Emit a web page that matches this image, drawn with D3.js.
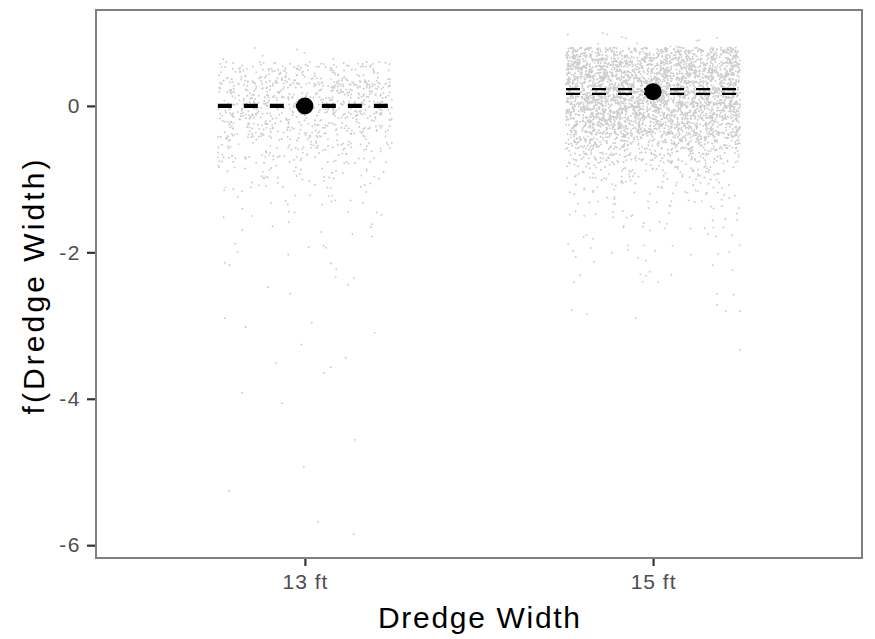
<!DOCTYPE html>
<html>
<head>
<meta charset="utf-8">
<script src="https://cdn.jsdelivr.net/npm/d3@7"></script>
<style>
  body { margin: 0; background: #fff; }
  svg { display: block; font-family: "Liberation Sans", Arial, sans-serif; }
</style>
</head>
<body>
<svg id="chart" width="875" height="639"></svg>
<script>
// categories and fitted effect
const categories = ["13 ft", "15 ft"];
const means = [0.0, 0.195];
const lower = [-0.015, 0.165];
const upper = [0.015, 0.23];

// partial residuals, summarised as counts per 0.2-wide band
const binLow = [0.8, 0.6, 0.4, 0.2, 0.0, -0.2, -0.4, -0.6, -0.8, -1.0, -1.2, -1.4, -1.6, -1.8, -2.0, -2.2, -2.4, -2.6];
const counts13 = [0, 8, 105, 170, 170, 150, 115, 85, 58, 34, 20, 13, 9, 7, 5, 4, 3, 3];
const counts15 = [12, 440, 560, 590, 590, 530, 420, 270, 150, 75, 42, 26, 19, 15, 11, 8, 6, 5];

// isolated residuals in the lower tail: [category index, jitter, value]
const tail = [
  [0, -0.083, -3.51], [0, 0.117, -3.44], [0, 0.074, -3.57], [0, 0.054, -3.65],
  [0, -0.18, -3.92], [0, -0.066, -4.06], [0, 0.143, -4.56], [0, -0.003, -4.93],
  [0, -0.217, -5.26], [0, 0.037, -5.68], [0, 0.14, -5.85], [0, -0.23, -2.9],
  [0, -0.17, -3.02], [0, 0.02, -2.96], [0, -0.01, -3.26], [0, 0.2, -3.1],
  [1, -0.19, -2.84], [1, -0.234, -2.79], [1, 0.209, -2.8], [1, 0.249, -2.8],
  [1, 0.249, -3.33], [1, 0.183, -2.72], [1, -0.05, -2.9]
];

const yTicks = [0, -2, -4, -6];

const panel = { left: 96, right: 862, top: 10, bottom: 558 };

const svg = d3.select("#chart");

const x = d3.scaleLinear().domain([-0.6, 1.6]).range([panel.left, panel.right]);
const y = d3.scaleLinear().domain([-6.175, 1.31]).range([panel.bottom, panel.top]);

// deterministic integer hash, only used to place points inside their band (jitter layout)
function spread(n) {
  n = Math.imul(n ^ (n >>> 16), 0x45d9f3b);
  n = Math.imul(n ^ (n >>> 16), 0x45d9f3b);
  n ^= n >>> 16;
  return (n >>> 0) / 4294967296;
}

const points = [];
[counts13, counts15].forEach((counts, ci) => {
  counts.forEach((n, bi) => {
    for (let j = 0; j < n; j++) {
      const k = ci * 100000 + bi * 1000 + j;
      points.push({ c: ci, jit: (spread(2 * k + 1) - 0.5) * 0.5, val: binLow[bi] + spread(2 * k + 2) * 0.2 });
    }
  });
});
tail.forEach(t => points.push({ c: t[0], jit: t[1], val: t[2] }));

svg.append("defs").append("clipPath").attr("id", "panelClip")
  .append("rect")
  .attr("x", panel.left).attr("y", panel.top)
  .attr("width", panel.right - panel.left).attr("height", panel.bottom - panel.top);

const plot = svg.append("g").attr("clip-path", "url(#panelClip)");

plot.append("g")
  .selectAll("circle")
  .data(points)
  .join("circle")
  .attr("cx", d => x(d.c + d.jit))
  .attr("cy", d => y(d.val))
  .attr("r", 0.95)
  .attr("fill", "#cbcbcb");

// dashed interval lines
const lines = [];
categories.forEach((c, i) => {
  lines.push({ i, v: lower[i] });
  lines.push({ i, v: upper[i] });
});
plot.append("g")
  .selectAll("line")
  .data(lines)
  .join("line")
  .attr("x1", d => x(d.i - 0.25))
  .attr("x2", d => x(d.i + 0.25))
  .attr("y1", d => y(d.v))
  .attr("y2", d => y(d.v))
  .attr("stroke", "#000")
  .attr("stroke-width", 2.2)
  .attr("stroke-dasharray", "14 12");

plot.append("g")
  .selectAll("circle")
  .data(means)
  .join("circle")
  .attr("cx", (d, i) => x(i))
  .attr("cy", d => y(d))
  .attr("r", 8.5)
  .attr("fill", "#000");

// panel border
svg.append("rect")
  .attr("x", panel.left).attr("y", panel.top)
  .attr("width", panel.right - panel.left).attr("height", panel.bottom - panel.top)
  .attr("fill", "none")
  .attr("stroke", "#7f7f7f")
  .attr("stroke-width", 2);

// y axis
const yAxis = svg.append("g")
  .attr("transform", `translate(${panel.left - 1},0)`)
  .call(d3.axisLeft(y).tickValues(yTicks).tickSize(8).tickPadding(6).tickFormat(d3.format("d")));
yAxis.select(".domain").remove();
yAxis.selectAll(".tick line").attr("stroke", "#333").attr("stroke-width", 2.2);
yAxis.selectAll(".tick text")
  .attr("fill", "#4d4d4d")
  .style("font-size", "21px")
  .style("letter-spacing", "1.5px")
  .style("font-family", "'Liberation Sans', Arial, sans-serif")
  .text(d => d === 0 ? "0" : "-" + Math.abs(d));

// x axis
const xAxis = svg.append("g")
  .attr("transform", `translate(0,${panel.bottom + 1})`)
  .call(d3.axisBottom(x).tickValues([0, 1]).tickSize(7).tickPadding(8).tickFormat(i => categories[i]));
xAxis.select(".domain").remove();
xAxis.selectAll(".tick line").attr("stroke", "#333").attr("stroke-width", 2.2);
xAxis.selectAll(".tick text")
  .attr("fill", "#4d4d4d")
  .style("font-size", "21px")
  .style("letter-spacing", "1px")
  .style("font-family", "'Liberation Sans', Arial, sans-serif");

// titles
svg.append("text")
  .attr("x", (panel.left + panel.right) / 2)
  .attr("y", 628)
  .attr("text-anchor", "middle")
  .attr("font-size", 30)
  .attr("textLength", 202)
  .attr("lengthAdjust", "spacing")
  .attr("fill", "#000")
  .text("Dredge Width");

svg.append("text")
  .attr("transform", `translate(44,${(panel.top + panel.bottom) / 2 + 3}) rotate(-90)`)
  .attr("text-anchor", "middle")
  .attr("font-size", 30)
  .attr("textLength", 255)
  .attr("lengthAdjust", "spacing")
  .attr("fill", "#000")
  .text("f(Dredge Width)");
</script>
</body>
</html>
